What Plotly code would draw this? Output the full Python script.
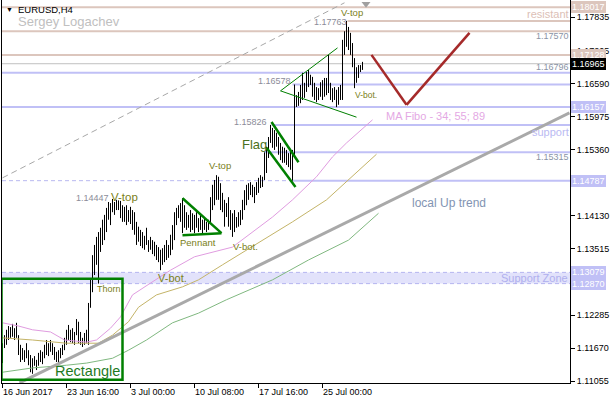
import plotly.graph_objects as go

# ---------------- data ----------------
highs = [1.1176, 1.1191, 1.1201, 1.1208, 1.1206, 1.1212, 1.1204, 1.1214, 1.1191, 1.1173,
         1.1167, 1.1163, 1.1176, 1.1163, 1.1154, 1.1148, 1.1152, 1.1145, 1.1158, 1.1163,
         1.1160, 1.1173, 1.1182, 1.1176, 1.1182, 1.1176, 1.1169, 1.1160, 1.1163, 1.1167,
         1.1173, 1.1186, 1.1201, 1.1210, 1.1201, 1.1204, 1.1197, 1.1221, 1.1216, 1.1197,
         1.1186, 1.1195, 1.1201, 1.1251, 1.1294, 1.1340, 1.1359, 1.1374, 1.1383, 1.1391,
         1.1406, 1.1415, 1.1428, 1.1439, 1.1437, 1.14447, 1.1439, 1.1443, 1.1442, 1.1441,
         1.1433, 1.1430, 1.1433, 1.1424, 1.1430, 1.1424, 1.1420, 1.1402, 1.1393, 1.1387,
         1.1383, 1.1376, 1.1391, 1.1368, 1.1374, 1.1368, 1.1365, 1.1359, 1.1355, 1.1350,
         1.1353, 1.1359, 1.1368, 1.1359, 1.1378, 1.1396, 1.1420, 1.1428, 1.1433, 1.1437,
         1.1446, 1.1433, 1.1420, 1.1415, 1.1424, 1.1418, 1.1415, 1.1420, 1.1409, 1.1415,
         1.1406, 1.1409, 1.1402, 1.1406, 1.1448, 1.1471, 1.1480, 1.1489, 1.1486, 1.1474,
         1.1456, 1.1443, 1.1437, 1.1448, 1.1424, 1.1418, 1.1424, 1.1411, 1.1420, 1.1424,
         1.1443, 1.1461, 1.1471, 1.1474, 1.1476, 1.1471, 1.1467, 1.1476, 1.1484, 1.1489,
         1.1486, 1.15315, 1.1542, 1.1560, 1.15826, 1.1577, 1.1573, 1.1568, 1.1560, 1.1549,
         1.1542, 1.1540, 1.1536, 1.1530, 1.1536, 1.1536, 1.16578, 1.1638, 1.1644, 1.1657,
         1.16796, 1.1661, 1.1681, 1.1685, 1.1676, 1.1672, 1.1661, 1.1653, 1.1651, 1.1662,
         1.1666, 1.1670, 1.1670, 1.17128, 1.1661, 1.1651, 1.1653, 1.1648, 1.1653, 1.1657,
         1.1741, 1.17570, 1.17763, 1.1765, 1.1754, 1.1735, 1.1707, 1.1690, 1.1694, 1.1694,
         1.1700]

lows = [1.1139, 1.1167, 1.1173, 1.1182, 1.1186, 1.1188, 1.1182, 1.1186, 1.1154, 1.1141,
        1.1145, 1.1141, 1.1148, 1.1135, 1.1122, 1.1119, 1.1134, 1.1126, 1.1134, 1.1141,
        1.1137, 1.1148, 1.1154, 1.1152, 1.1160, 1.1154, 1.1145, 1.1141, 1.1135, 1.1148,
        1.1154, 1.1163, 1.1173, 1.1182, 1.1178, 1.1176, 1.1173, 1.1191, 1.1176, 1.1173,
        1.1169, 1.1173, 1.1176, 1.1173, 1.1242, 1.1271, 1.1303, 1.1322, 1.12870, 1.1346,
        1.1359, 1.1368, 1.1383, 1.1406, 1.1396, 1.1420, 1.1415, 1.1424, 1.1424, 1.1409,
        1.1402, 1.1402, 1.1396, 1.1402, 1.1398, 1.1387, 1.1378, 1.1359, 1.1365, 1.1357,
        1.1353, 1.1350, 1.1359, 1.1346, 1.1350, 1.1342, 1.1338, 1.1331, 1.1327, 1.1312,
        1.1322, 1.1327, 1.1331, 1.1335, 1.1340, 1.1350, 1.1368, 1.1396, 1.1409, 1.1402,
        1.1381, 1.1391, 1.1387, 1.1391, 1.1383, 1.1387, 1.1381, 1.1391, 1.1383, 1.1387,
        1.1381, 1.1387, 1.1383, 1.1387, 1.1400, 1.1424, 1.1433, 1.1443, 1.1443, 1.1424,
        1.1420, 1.1393, 1.1411, 1.1393, 1.1387, 1.1374, 1.1383, 1.1391, 1.1393, 1.1396,
        1.1406, 1.1424, 1.1433, 1.1443, 1.1452, 1.1448, 1.1437, 1.1452, 1.1456, 1.1465,
        1.1467, 1.1480, 1.1493, 1.1521, 1.1549, 1.1540, 1.1536, 1.1542, 1.1527, 1.1517,
        1.1512, 1.1512, 1.1508, 1.1504, 1.1499, 1.14787, 1.1523, 1.1616, 1.1618, 1.1623,
        1.1629, 1.1633, 1.1644, 1.1653, 1.1657, 1.1635, 1.1629, 1.1625, 1.1629, 1.1635,
        1.1629, 1.1635, 1.1638, 1.1642, 1.1629, 1.1625, 1.1629, 1.16157, 1.1620, 1.1629,
        1.1629, 1.1713, 1.1728, 1.1722, 1.1713, 1.1690, 1.1651, 1.1661, 1.1670, 1.1681,
        1.1685]

closes = [1.1173, 1.1182, 1.1195, 1.1191, 1.1201, 1.1197, 1.1201, 1.1189, 1.1160, 1.1154,
          1.1152, 1.1160, 1.1154, 1.1141, 1.1134, 1.1145, 1.1137, 1.1141, 1.1154, 1.1148,
          1.1158, 1.1167, 1.1163, 1.1173, 1.1165, 1.1160, 1.1152, 1.1154, 1.1160, 1.1163,
          1.1171, 1.1182, 1.1195, 1.1191, 1.1195, 1.1182, 1.1193, 1.1210, 1.1182, 1.1176,
          1.1182, 1.1186, 1.1191, 1.1245, 1.1284, 1.1327, 1.1350, 1.1340, 1.1368, 1.1378,
          1.1396, 1.1409, 1.1420, 1.1424, 1.1433, 1.1428, 1.1433, 1.1437, 1.1432, 1.1420,
          1.1415, 1.1424, 1.1415, 1.1420, 1.1406, 1.1396, 1.1387, 1.1378, 1.1383, 1.1368,
          1.1372, 1.1368, 1.1365, 1.1359, 1.1353, 1.1350, 1.1346, 1.1340, 1.1335, 1.1340,
          1.1346, 1.1353, 1.1350, 1.1355, 1.1368, 1.1387, 1.1415, 1.1420, 1.1424, 1.1424,
          1.1406, 1.1415, 1.1402, 1.1406, 1.1396, 1.1406, 1.1396, 1.1402, 1.1396, 1.1391,
          1.1396, 1.1391, 1.1396, 1.1402, 1.1443, 1.1461, 1.1471, 1.1461, 1.1452, 1.1433,
          1.1428, 1.1424, 1.1420, 1.1402, 1.1396, 1.1406, 1.1402, 1.1406, 1.1415, 1.1420,
          1.1433, 1.1452, 1.1461, 1.1465, 1.1458, 1.1452, 1.1461, 1.1471, 1.1476, 1.1480,
          1.1484, 1.1521, 1.1536, 1.1555, 1.1564, 1.1555, 1.1551, 1.1545, 1.1536, 1.1527,
          1.1532, 1.1521, 1.1517, 1.1521, 1.1514, 1.1527, 1.1633, 1.1629, 1.1638, 1.1651,
          1.1648, 1.1657, 1.1670, 1.1666, 1.1662, 1.1644, 1.1638, 1.1644, 1.1648, 1.1651,
          1.1657, 1.1648, 1.1657, 1.1651, 1.1638, 1.1644, 1.1633, 1.1638, 1.1644, 1.1638,
          1.1731, 1.1744, 1.1741, 1.1731, 1.1722, 1.1700, 1.1676, 1.1685, 1.1689, 1.1689,
          1.16965]

opens = [1.1141, 1.1173, 1.1182, 1.1195, 1.1191, 1.1201, 1.1197, 1.1201, 1.1189, 1.1160,
         1.1154, 1.1152, 1.1160, 1.1154, 1.1141, 1.1134, 1.1145, 1.1137, 1.1141, 1.1154,
         1.1148, 1.1158, 1.1167, 1.1163, 1.1173, 1.1165, 1.1160, 1.1152, 1.1154, 1.1160,
         1.1163, 1.1171, 1.1182, 1.1195, 1.1191, 1.1195, 1.1182, 1.1193, 1.1210, 1.1182,
         1.1176, 1.1182, 1.1186, 1.1191, 1.1245, 1.1284, 1.1327, 1.1350, 1.1340, 1.1368,
         1.1378, 1.1396, 1.1409, 1.1420, 1.1424, 1.1433, 1.1428, 1.1433, 1.1437, 1.1432,
         1.1420, 1.1415, 1.1424, 1.1415, 1.1420, 1.1406, 1.1396, 1.1387, 1.1378, 1.1383,
         1.1368, 1.1372, 1.1368, 1.1365, 1.1359, 1.1353, 1.1350, 1.1346, 1.1340, 1.1335,
         1.1340, 1.1346, 1.1353, 1.1350, 1.1355, 1.1368, 1.1387, 1.1415, 1.1420, 1.1424,
         1.1424, 1.1406, 1.1415, 1.1402, 1.1406, 1.1396, 1.1406, 1.1396, 1.1402, 1.1396,
         1.1391, 1.1396, 1.1391, 1.1396, 1.1402, 1.1443, 1.1461, 1.1471, 1.1461, 1.1452,
         1.1433, 1.1428, 1.1424, 1.1420, 1.1402, 1.1396, 1.1406, 1.1402, 1.1406, 1.1415,
         1.1420, 1.1433, 1.1452, 1.1461, 1.1465, 1.1458, 1.1452, 1.1461, 1.1471, 1.1476,
         1.1480, 1.1484, 1.1521, 1.1536, 1.1555, 1.1564, 1.1555, 1.1551, 1.1545, 1.1536,
         1.1527, 1.1532, 1.1521, 1.1517, 1.1521, 1.1514, 1.1527, 1.1633, 1.1629, 1.1638,
         1.1651, 1.1648, 1.1657, 1.1670, 1.1666, 1.1662, 1.1644, 1.1638, 1.1644, 1.1648,
         1.1651, 1.1657, 1.1648, 1.1657, 1.1651, 1.1638, 1.1644, 1.1633, 1.1638, 1.1644,
         1.1638, 1.1731, 1.1744, 1.1741, 1.1731, 1.1722, 1.1700, 1.1676, 1.1685, 1.1689,
         1.1689]

bar_idx = list(range(len(closes)))

# moving averages (34 / 55 / 89), sampled along the curves: bar index, price
ma34_x = [0, 8, 15, 24, 31, 42, 47, 54, 59, 65, 74, 84, 96, 115, 135, 145, 157, 165, 172, 185]
ma34_y = [1.1214, 1.1208, 1.1201, 1.1197, 1.1182, 1.1178, 1.1182, 1.1204, 1.1225, 1.1266,
          1.1288, 1.1312, 1.1337, 1.1355, 1.1411, 1.1443, 1.1486, 1.1523, 1.1549, 1.1592]
ma55_x = [0, 15, 32, 48, 55, 63, 68, 77, 90, 98, 110, 128, 145, 162, 173, 187]
ma55_y = [1.1186, 1.1182, 1.1176, 1.1176, 1.1191, 1.1216, 1.1243, 1.1266, 1.1281, 1.1294,
          1.1322, 1.1363, 1.1402, 1.1443, 1.1480, 1.1528]
ma89_x = [0, 15, 32, 42, 55, 63, 72, 85, 98, 112, 135, 153, 173, 188]
ma89_y = [1.1122, 1.1130, 1.1135, 1.1139, 1.1148, 1.1163, 1.1182, 1.1214, 1.1232, 1.1257,
          1.1294, 1.1331, 1.1368, 1.1418]

# hand-drawn objects: bar index / price
uptrend_x = [8.5, 283.5]
uptrend_y = [1.1102, 1.1605]
channel_x = [0, 171]
channel_y = [1.1484, 1.1810]
forecast_x = [184.5, 202, 233.5]
forecast_y = [1.1713, 1.1620, 1.1754]
rect_x = [-0.5, 60]
rect_y = [1.1108, 1.1296]
pennant_top_x = [90, 109.5]
pennant_top_y = [1.1446, 1.1381]
pennant_base_x = [90, 109.5]
pennant_base_y = [1.1377, 1.1381]
flag_up_x = [134.5, 148]
flag_up_y = [1.1588, 1.1513]
flag_lo_x = [132, 146.5]
flag_lo_y = [1.1540, 1.1467]
tri_x = [167.5, 139, 177]
tri_y = [1.1726, 1.1646, 1.1597]

# levels
res_full = [1.18017, 1.17570, 1.17128]
res_vtop = 1.17763
res_vtop_start = 172.5
current_price = 1.16965
sup_full = [1.16796, 1.16157]
sup_partial = [1.16578, 1.15826, 1.15315, 1.14787]
sup_partial_start = [145, 134.5, 131, 145]
zone_lo, zone_hi = 1.12870, 1.13079

# axis
ytick_vals = [1.17835, 1.17205, 1.16590, 1.15975, 1.15360, 1.14130, 1.13515, 1.12285, 1.11670, 1.11055]
xtick_vals = [0, 32, 64, 96, 128, 160]
xtick_text = ["16 Jun 2017", "23 Jun 16:00", "3 Jul 00:00", "10 Jul 08:00", "17 Jul 16:00", "25 Jul 00:00"]

# ---------------- figure ----------------
FONT = "Liberation Sans, Arial, sans-serif"
X_RANGE = [-0.25, 283.75]
Y_RANGE = [1.11019, 1.18152]
BROWN = "#dcc6bd"
BLUE = "#c0c0f6"
OLIVE = "#7a8018"
DKGREEN = "#1f7a1f"
GREEN = "#008000"

fig = go.Figure()

fig.add_trace(go.Scatter(x=ma89_x, y=ma89_y, mode="lines", line=dict(color="#80b880", width=1), hoverinfo="skip"))
fig.add_trace(go.Scatter(x=ma55_x, y=ma55_y, mode="lines", line=dict(color="#c4b468", width=1), hoverinfo="skip"))
fig.add_trace(go.Scatter(x=ma34_x, y=ma34_y, mode="lines", line=dict(color="#e09ce0", width=1), hoverinfo="skip"))

fig.add_trace(go.Ohlc(x=bar_idx, open=opens, high=highs, low=lows, close=closes,
                      increasing=dict(line=dict(color="black", width=1)),
                      decreasing=dict(line=dict(color="black", width=1)),
                      tickwidth=0.25, hoverinfo="skip"))

shapes = []
# support zone
shapes.append(dict(type="rect", xref="x", yref="y", x0=X_RANGE[0], x1=X_RANGE[1], y0=zone_lo, y1=zone_hi,
                   fillcolor="#e2e2fb", line=dict(width=0), layer="below"))
for v in (zone_lo, zone_hi):
    shapes.append(dict(type="line", xref="x", yref="y", x0=X_RANGE[0], x1=X_RANGE[1], y0=v, y1=v,
                       line=dict(color="#b4b4f0", width=1, dash="4px,3px"), layer="below"))
for v in res_full:
    shapes.append(dict(type="line", xref="x", yref="y", x0=X_RANGE[0], x1=X_RANGE[1], y0=v, y1=v,
                       line=dict(color=BROWN, width=2), layer="below"))
shapes.append(dict(type="line", xref="x", yref="y", x0=res_vtop_start, x1=X_RANGE[1], y0=res_vtop, y1=res_vtop,
                   line=dict(color=BROWN, width=2), layer="below"))
shapes.append(dict(type="line", xref="x", yref="y", x0=X_RANGE[0], x1=X_RANGE[1], y0=current_price, y1=current_price,
                   line=dict(color="#c0c0c0", width=1), layer="below"))
for v in sup_full:
    shapes.append(dict(type="line", xref="x", yref="y", x0=X_RANGE[0], x1=X_RANGE[1], y0=v, y1=v,
                       line=dict(color=BLUE, width=2), layer="below"))
for v, s in zip(sup_partial, sup_partial_start):
    shapes.append(dict(type="line", xref="x", yref="y", x0=s, x1=X_RANGE[1], y0=v, y1=v,
                       line=dict(color=BLUE, width=2), layer="below"))
shapes.append(dict(type="line", xref="x", yref="y", x0=X_RANGE[0], x1=sup_partial_start[3],
                   y0=sup_partial[3], y1=sup_partial[3],
                   line=dict(color="#b8b8f0", width=1, dash="4px,3px"), layer="below"))

def seg(xs, ys, color, width, dash=None, layer="above"):
    out = []
    for k in range(len(xs) - 1):
        ln = dict(color=color, width=width)
        if dash:
            ln["dash"] = dash
        out.append(dict(type="line", xref="x", yref="y", x0=xs[k], x1=xs[k + 1],
                        y0=ys[k], y1=ys[k + 1], line=ln, layer=layer))
    return out

shapes += seg(channel_x, channel_y, "#a8a8a8", 1, dash="6px,4px")
shapes += seg(uptrend_x, uptrend_y, "#a9a9a9", 3)
shapes += seg(forecast_x, forecast_y, "#a52a2a", 2.5)
shapes.append(dict(type="rect", xref="x", yref="y", x0=rect_x[0], x1=rect_x[1], y0=rect_y[0], y1=rect_y[1],
                   line=dict(color=GREEN, width=2.5), fillcolor="rgba(0,0,0,0)", layer="above"))
shapes += seg(pennant_top_x, pennant_top_y, GREEN, 2.5)
shapes += seg(pennant_base_x, pennant_base_y, GREEN, 2.5)
shapes += seg(flag_up_x, flag_up_y, GREEN, 2.5)
shapes += seg(flag_lo_x, flag_lo_y, GREEN, 2.5)
shapes += seg(tri_x, tri_y, GREEN, 1)
# chart-shift marker
shapes.append(dict(type="path", xref="x", yref="paper",
                   path="M 179.5,0.995 L 184,0.995 L 181.75,0.98 Z",
                   fillcolor="#a0a0a0", line=dict(width=0), layer="above"))

fig.update_layout(shapes=shapes)

# ---------- text ----------
PL, PR, PT, PB = 2, 570, 0, 383

def px(x):
    return (x - PL) / (PR - PL)

def py(y):
    return (PB - y) / (PB - PT)

ann = []

def txt(text, x, y, size, color, anchor="left"):
    ann.append(dict(text=text, x=px(x), y=py(y), xref="paper", yref="paper",
                    xanchor=anchor, yanchor="middle", showarrow=False,
                    font=dict(family=FONT, size=size, color=color), borderpad=0))

txt("▼", 5, 9, 7, "black")
txt("EURUSD,H4", 17, 9, 9.5, "black")
txt("Sergey Logachev", 17, 22, 13, "#c0c0c0")

txt("resistant", 570, 14, 11, "#dcc0b6", anchor="right")
txt("support", 570, 132, 11, "#babaf2", anchor="right")
txt("Support Zone", 569, 278, 11, "#b0b0ee", anchor="right")
txt("MA Fibo - 34; 55; 89", 385, 116, 11, "#e4a8e4")
txt("local Up trend", 411, 203, 12, "#8294b2")

for t, yy in (("1.17570", 36), ("1.16796", 67), ("1.15315", 157)):
    txt(t, 570, yy, 9, "#8a94a6", anchor="right")
for t, xx, yy in (("1.17763", 348, 22), ("1.16578", 292, 81), ("1.15826", 268, 122), ("1.14447", 110, 198)):
    txt(t, xx, yy, 9, "#8c8c99", anchor="right")

txt("V-top", 110, 197, 11.5, OLIVE)
txt("Thorn", 96, 289, 9, OLIVE)
txt("Rectangle", 54, 371, 14.5, DKGREEN)
txt("V-bot.", 157, 278, 11, OLIVE)
txt("Pennant", 179, 243, 9.5, OLIVE)
txt("V-top", 208, 166, 9.5, OLIVE)
txt("V-bot.", 232, 246, 9.5, OLIVE)
txt("Flag", 241, 144, 13, "#4a7020")
txt("V-top", 340, 13, 9.5, OLIVE)
txt("V-bot.", 354, 95, 8.5, OLIVE)

# x-axis labels (left aligned at tick, like the terminal)
for v, t in zip(xtick_vals, xtick_text):
    ann.append(dict(text=t, x=v, y=py(392), xref="x", yref="paper", xanchor="left", yanchor="middle",
                    xshift=-1, showarrow=False, borderpad=0,
                    font=dict(family=FONT, size=9, color="black")))

# highlighted price boxes on the right scale
boxes = [(1.18017, BROWN, "white"), (1.17128, BROWN, "white"), (1.16965, "black", "white"),
         (1.16157, BLUE, "white"), (1.14787, BLUE, "white"), (1.13079, BLUE, "white"),
         (1.12870, BLUE, "white")]
for v, bg, fc in boxes:
    ann.append(dict(text="%.5f" % v, x=1, y=v, xref="paper", yref="y", xanchor="left", yanchor="middle",
                    xshift=1, showarrow=False, bgcolor=bg, borderpad=1, borderwidth=0,
                    font=dict(family=FONT, size=9, color=fc)))

fig.update_layout(annotations=ann)

fig.update_layout(
    width=610, height=400,
    margin=dict(l=PL, r=610 - PR, t=PT, b=400 - PB),
    paper_bgcolor="white", plot_bgcolor="white",
    showlegend=False,
    xaxis=dict(range=X_RANGE, showgrid=False, zeroline=False, showline=True, linecolor="black",
               linewidth=1, ticks="outside", ticklen=4, tickcolor="black", tickvals=xtick_vals,
               showticklabels=False, rangeslider=dict(visible=False), fixedrange=True),
    yaxis=dict(range=Y_RANGE, side="right", showgrid=False, zeroline=False, showline=True,
               linecolor="black", linewidth=1, mirror=True, ticks="outside", ticklen=4,
               tickcolor="black", tickvals=ytick_vals, ticktext=["%.5f" % v for v in ytick_vals],
               tickfont=dict(family=FONT, size=9, color="black"), fixedrange=True),
)

fig.write_html("out.html", config={"displayModeBar": False, "staticPlot": True})

# remove the browser's default page margin so the chart sits at the window origin
with open("out.html", encoding="utf-8") as fh:
    page = fh.read()
page = page.replace("<head>", "<head><style>html,body{margin:0;padding:0;overflow:hidden;}</style>", 1)
with open("out.html", "w", encoding="utf-8") as fh:
    fh.write(page)
